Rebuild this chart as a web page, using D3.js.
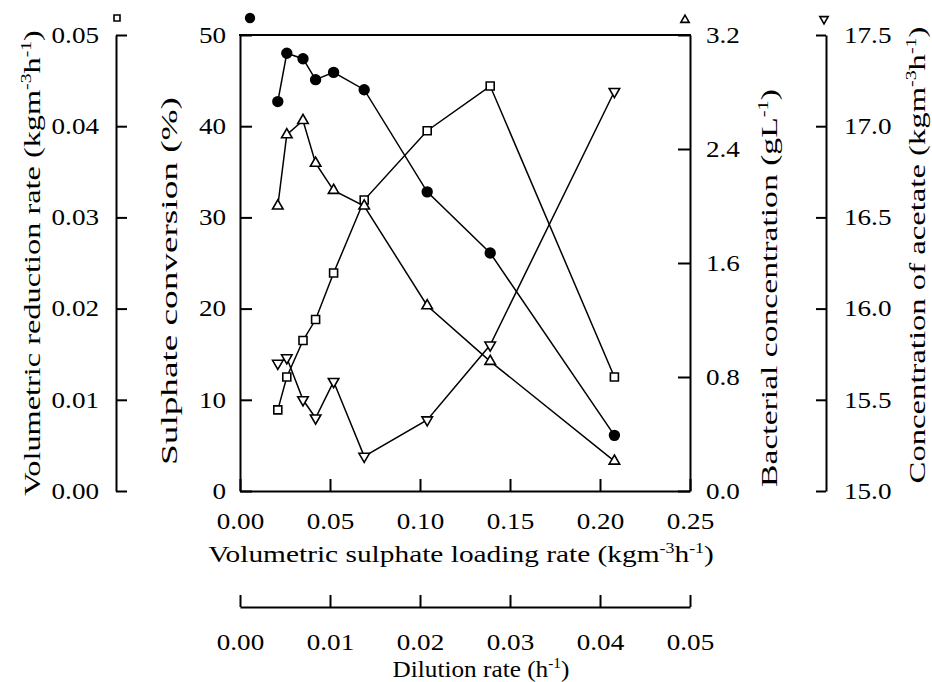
<!DOCTYPE html>
<html>
<head>
<meta charset="utf-8">
<script src="https://cdn.jsdelivr.net/npm/d3@7/dist/d3.min.js"></script>
<style>
  html, body { margin: 0; padding: 0; background: #fff; }
  svg { display: block; }
</style>
</head>
<body>
<script>
// ---------------- data ----------------
const loadingRate = [0.021, 0.026, 0.035, 0.042, 0.052, 0.069, 0.104, 0.139, 0.208];
const sulphateConversion = [42.7, 48.0, 47.4, 45.1, 45.9, 44.0, 32.8, 26.1, 6.1];
const reductionRate = [0.0089, 0.0125, 0.0165, 0.0188, 0.0239, 0.0319, 0.0395, 0.0444, 0.0125];
const bacterialConc = [2.00, 2.50, 2.60, 2.30, 2.11, 2.00, 1.30, 0.91, 0.21];
const acetateConc = [15.70, 15.73, 15.50, 15.40, 15.60, 15.19, 15.39, 15.80, 17.19];

const loadingTicks = [0, 0.05, 0.10, 0.15, 0.20, 0.25];
const dilutionTicks = [0, 0.01, 0.02, 0.03, 0.04, 0.05];
const conversionTicks = [0, 10, 20, 30, 40, 50];
const reductionTicks = [0, 0.01, 0.02, 0.03, 0.04, 0.05];
const bacterialTicks = [0, 0.8, 1.6, 2.4, 3.2];
const acetateTicks = [15.0, 15.5, 16.0, 16.5, 17.0, 17.5];

// ---------------- layout ----------------
const W = 932, H = 682;
const L = 240, R = 690, T = 35, B = 491;
const FONT = "Liberation Serif, Times New Roman, serif";
const FS = 23;
const KT = 1.18; // horizontal widening of tick labels

const svg = d3.select("body").append("svg").attr("width", W).attr("height", H);
svg.append("rect").attr("width", W).attr("height", H).attr("fill", "#fff");

const x = d3.scaleLinear().domain([0, 0.25]).range([L, R]);
const xD = d3.scaleLinear().domain([0, 0.05]).range([L, R]);
const yC = d3.scaleLinear().domain([0, 50]).range([B, T]);
const yV = d3.scaleLinear().domain([0, 0.05]).range([B, T]);
const yB = d3.scaleLinear().domain([0, 3.2]).range([B, T]);
const yA = d3.scaleLinear().domain([15, 17.5]).range([B, T]);

function styleAxis(g, side, spacing) {
  g.attr("font-family", FONT).attr("font-size", FS);
  g.selectAll("path.domain").attr("stroke", "#000").attr("stroke-width", 2);
  g.selectAll(".tick line").attr("stroke", "#000").attr("stroke-width", 2);
  const t = g.selectAll(".tick text").attr("fill", "#000").attr("transform", `scale(${KT},1)`);
  if (side === "left") t.attr("x", -spacing / KT);
  if (side === "right") t.attr("x", spacing / KT);
}

// main left axis (sulphate conversion)
const gC = svg.append("g").attr("transform", `translate(${L},0)`)
  .call(d3.axisLeft(yC).tickValues(conversionTicks).tickFormat(d3.format("d"))
    .tickSizeInner(-12).tickSizeOuter(0).tickPadding(14));
styleAxis(gC, "left", 14);

// outer left axis (volumetric reduction rate)
const OX = 116;
const gV = svg.append("g").attr("transform", `translate(${OX},0)`)
  .call(d3.axisLeft(yV).tickValues(reductionTicks).tickFormat(d3.format(".2f"))
    .tickSizeInner(-11).tickSizeOuter(0).tickPadding(17));
styleAxis(gV, "left", 17);

// right frame axis (bacterial concentration)
const gB = svg.append("g").attr("transform", `translate(${R},0)`)
  .call(d3.axisRight(yB).tickValues(bacterialTicks).tickFormat(d3.format(".1f"))
    .tickSizeInner(-12).tickSizeOuter(0).tickPadding(16));
styleAxis(gB, "right", 16);

// far right axis (acetate)
const AX = 826;
const gA = svg.append("g").attr("transform", `translate(${AX},0)`)
  .call(d3.axisRight(yA).tickValues(acetateTicks).tickFormat(d3.format(".1f"))
    .tickSizeInner(-10).tickSizeOuter(0).tickPadding(18));
styleAxis(gA, "right", 18);

// bottom frame axis (loading rate)
const gX = svg.append("g").attr("transform", `translate(0,${B})`)
  .call(d3.axisBottom(x).tickValues(loadingTicks).tickFormat(d3.format(".2f"))
    .tickSizeInner(-12).tickSizeOuter(0).tickPadding(22));
styleAxis(gX, "bottom", 22);

// dilution axis
const DY = 607;
const gD = svg.append("g").attr("transform", `translate(0,${DY})`)
  .call(d3.axisBottom(xD).tickValues(dilutionTicks).tickFormat(d3.format(".2f"))
    .tickSizeInner(-12).tickSizeOuter(0).tickPadding(27));
styleAxis(gD, "bottom", 27);

// top frame line
svg.append("line").attr("x1", L - 1).attr("x2", R + 1).attr("y1", T).attr("y2", T)
  .attr("stroke", "#000").attr("stroke-width", 2);

// ---------------- titles ----------------
function title(parts, cx, cy, rot, targetW) {
  const t = svg.append("text").attr("font-family", FONT).attr("font-size", FS)
    .attr("text-anchor", "middle").attr("fill", "#000");
  let up = false;
  parts.forEach(p => {
    const sup = p.startsWith("^");
    const s = t.append("tspan").text(sup ? p.slice(1) : p);
    if (sup && !up) { s.attr("dy", -9).attr("font-size", 14); up = true; }
    else if (sup) { s.attr("font-size", 14); }
    else if (!sup && up) { s.attr("dy", 9); up = false; }
  });
  const w = t.node().getBBox().width;
  const k = targetW / w;
  t.attr("transform", `translate(${cx},${cy}) rotate(${rot}) scale(${k},1)`);
  return t;
}
title(["Volumetric sulphate loading rate (kgm", "^-3", "h", "^-1", ")"], 461, 562, 0, 506);
title(["Dilution rate (h", "^-1", ")"], 481, 677, 0, 177);
title(["Volumetric reduction rate (kgm", "^-3", "h", "^-1", ")"], 40, 263, -90, 466);
title(["Sulphate conversion (%)"], 177, 281, -90, 368);
title(["Bacterial concentration (gL", "^-1", ")"], 777, 288, -90, 398);
title(["Concentration of acetate (kgm", "^-3", "h", "^-1", ")"], 925, 255, -90, 457);

// ---------------- series ----------------
const idx = d3.range(loadingRate.length);
const series = [
  { vals: sulphateConversion, y: yC, sym: d3.symbolCircle, size: 75, fill: "#000", rot: 0 },
  { vals: reductionRate, y: yV, sym: d3.symbolSquare, size: 64, fill: "#fff", rot: 0 },
  { vals: bacterialConc, y: yB, sym: d3.symbolTriangle, size: 48, fill: "#fff", rot: 0 },
  { vals: acetateConc, y: yA, sym: d3.symbolTriangle, size: 48, fill: "#fff", rot: 180 }
];

series.forEach(s => {
  svg.append("path")
    .attr("d", d3.line().x(i => x(loadingRate[i])).y(i => s.y(s.vals[i]))(idx))
    .attr("fill", "none").attr("stroke", "#000").attr("stroke-width", 1.5);
});
series.forEach(s => {
  svg.append("g").selectAll("path").data(idx).join("path")
    .attr("d", d3.symbol().type(s.sym).size(s.size))
    .attr("transform", i => `translate(${x(loadingRate[i])},${s.y(s.vals[i])}) rotate(${s.rot})`)
    .attr("fill", s.fill).attr("stroke", "#000").attr("stroke-width", 1.6);
});

// axis identifier symbols
const keys = [
  { sym: d3.symbolSquare, size: 36, fill: "#fff", rot: 0, px: OX + 1, py: 18 },
  { sym: d3.symbolCircle, size: 60, fill: "#000", rot: 0, px: L + 10, py: 18 },
  { sym: d3.symbolTriangle, size: 30, fill: "#fff", rot: 0, px: R - 5, py: 20 },
  { sym: d3.symbolTriangle, size: 30, fill: "#fff", rot: 180, px: AX - 2, py: 19 }
];
svg.append("g").selectAll("path").data(keys).join("path")
  .attr("d", k => d3.symbol().type(k.sym).size(k.size)())
  .attr("transform", k => `translate(${k.px},${k.py}) rotate(${k.rot})`)
  .attr("fill", k => k.fill).attr("stroke", "#000").attr("stroke-width", 1.6);
</script>
</body>
</html>
